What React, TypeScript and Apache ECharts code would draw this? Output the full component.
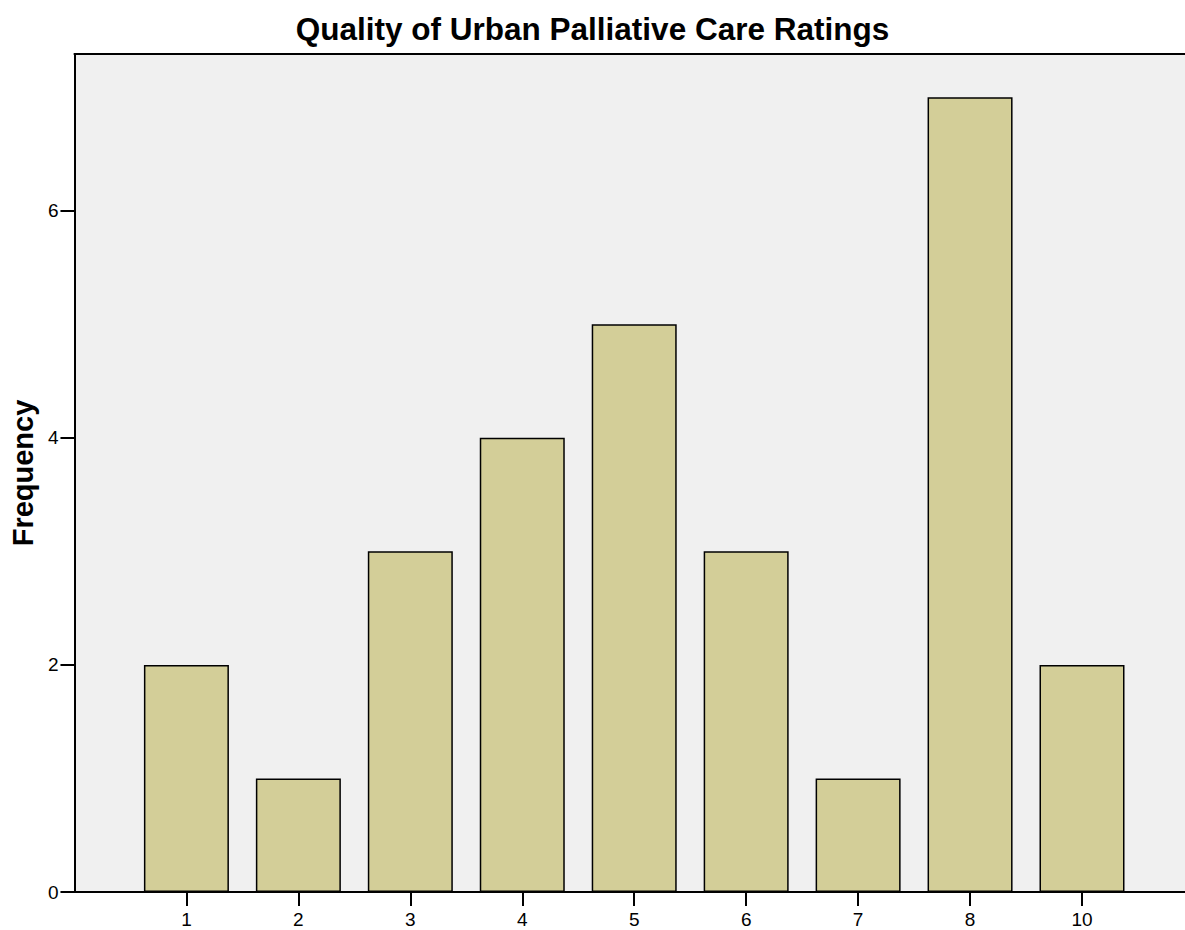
import React, { useEffect, useRef } from "react";
import * as echarts from "echarts";

const categories: string[] = ["1", "2", "3", "4", "5", "6", "7", "8", "10"];
const frequencies: number[] = [2, 1, 3, 4, 5, 3, 1, 7, 2];
const yTickValues: number[] = [0, 2, 4, 6];
const titleText = "Quality of Urban Palliative Care Ratings";
const yAxisName = "Frequency";

const FONT = 'Arial, "Liberation Sans", Helvetica, sans-serif';

export default function App() {
  const ref = useRef<HTMLDivElement>(null);

  useEffect(() => {
    if (!ref.current) return;
    const chart = echarts.init(ref.current, undefined, { renderer: "svg" });
    const positions = categories.map((_, i) => i + 1);
    const data = frequencies.map((v, i) => [positions[i], v]);
    const xMax = 9.92;
    chart.setOption({
      animation: false,
      backgroundColor: "#ffffff",
      title: {
        text: titleText,
        left: "center",
        top: 8,
        textStyle: {
          fontFamily: FONT,
          fontSize: 31.5,
          fontWeight: "bold",
          color: "#000",
        },
      },
      grid: {
        left: 73,
        right: 0,
        top: 54,
        bottom: 38,
        show: true,
        backgroundColor: "#f0f0f0",
        borderWidth: 0,
        containLabel: false,
      },
      xAxis: [
        {
          type: "value",
          min: 0,
          max: xMax,
          interval: 1,
          position: "bottom",
          axisLine: { show: true, onZero: false, lineStyle: { color: "#000", width: 2 } },
          axisTick: {
            show: true,
            length: 14,
            customValues: positions,
            lineStyle: { color: "#000", width: 2 },
          },
          axisLabel: {
            show: true,
            showMinLabel: false,
            showMaxLabel: false,
            margin: 18,
            fontFamily: FONT,
            fontSize: 19,
            color: "#000",
            formatter: (v: number) => {
              if (Math.abs(v - Math.round(v)) > 1e-6) return "";
              const idx = Math.round(v) - 1;
              return categories[idx] ?? "";
            },
          },
          splitLine: { show: false },
        },
        {
          type: "value",
          min: 0,
          max: xMax,
          position: "top",
          axisLine: { show: true, onZero: false, lineStyle: { color: "#000", width: 2 } },
          axisTick: { show: false },
          axisLabel: { show: false },
          splitLine: { show: false },
        },
      ],
      yAxis: {
        type: "value",
        min: 0,
        max: 7.38,
        interval: 2,
        name: yAxisName,
        nameLocation: "middle",
        nameRotate: 90,
        nameGap: 29,
        nameTextStyle: {
          fontFamily: FONT,
          fontSize: 29,
          fontWeight: "bold",
          color: "#000",
        },
        axisLine: { show: true, onZero: false, lineStyle: { color: "#000", width: 2 } },
        axisTick: {
          show: true,
          length: 14,
          customValues: yTickValues,
          lineStyle: { color: "#000", width: 2 },
        },
        axisLabel: {
          show: true,
          showMaxLabel: false,
          margin: 16,
          fontFamily: FONT,
          fontSize: 19,
          color: "#000",
          formatter: (v: number) => (yTickValues.includes(v) ? String(v) : ""),
        },
        splitLine: { show: false },
      },
      series: [
        {
          type: "bar",
          xAxisIndex: 0,
          data,
          barWidth: 85,
          itemStyle: {
            color: "#d3ce98",
            borderColor: "#000",
            borderWidth: 1.5,
          },
        },
      ],
    });
    return () => chart.dispose();
  }, []);

  return (
    <div
      ref={ref}
      style={{ position: "fixed", left: 0, top: 0, width: 1185, height: 930 }}
    />
  );
}
